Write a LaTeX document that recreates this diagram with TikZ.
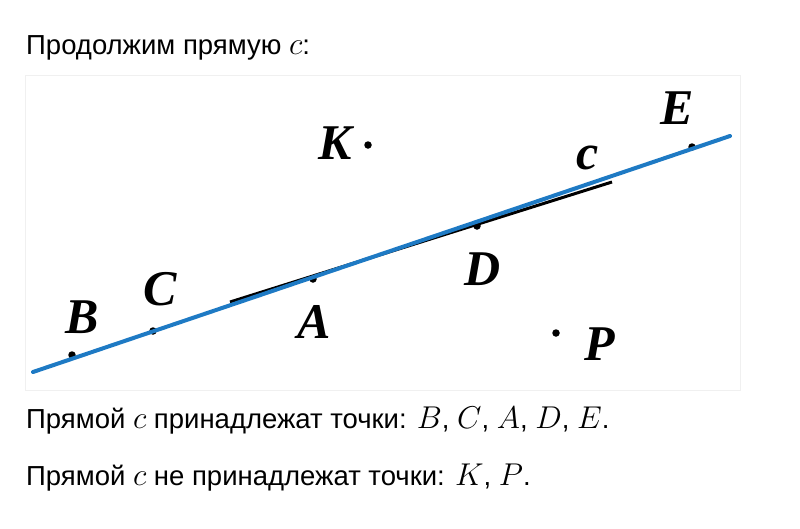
\documentclass[tikz,border=0pt]{standalone}
\usepackage{graphicx}
\usepackage{fontspec}
\setmainfont{Liberation Sans}
\newfontfamily\lblfont{Liberation Serif}
\newcommand{\mth}[1]{{\fontsize{20}{24}\selectfont\scalebox{1.52}{$#1$}}}
\begin{document}
\begin{tikzpicture}[x=1pt,y=-1pt,
  txt/.style={anchor=base west,inner sep=0pt,font=\fontsize{27.5}{32}\selectfont},
  lbl/.style={inner sep=0pt,font=\lblfont\bfseries\itshape\fontsize{50}{54}\selectfont},
  pt/.style={circle,fill=black,inner sep=0pt,minimum size=7.5pt},
  blueline/.style={draw={rgb,255:red,30;green,122;blue,196},line width=4pt,line cap=round},
  blackline/.style={draw=black,line width=3pt}]
\useasboundingbox[fill=white] (0,0) rectangle (800,528);
\draw[black!6,line width=0.8pt] (25,75) rectangle (740,390);
% text
\node[txt] (t1) at (26,54) {Продолжим прямую \mth{c}:};
\node[txt] (t2) at (26,428) {Прямой \mth{c} принадлежат точки: \mth{B}, \mth{C}, \mth{A}, \mth{D}, \mth{E}.};
\node[txt] (t3) at (26,485) {Прямой \mth{c} не принадлежат точки: \mth{K}, \mth{P}.};
% points
\coordinate (L0) at (33,372);
\coordinate (L1) at (730,136);
\coordinate (S0) at (230,302);
\coordinate (S1) at (612,182);
\draw[blackline] (S0) -- (S1);
\node[pt] (B) at (72,355) {};
\node[pt] (C) at (153,331) {};
\node[pt] (A) at (313,279) {};
\node[pt] (D) at (477,226) {};
\node[pt] (E) at (692,147) {};
\node[pt] (K) at (368,145) {};
\node[pt] (P) at (556,333) {};
\draw[blueline] (L0) -- (L1);
\node[lbl] (lB) at (82,317) {B};
\node[lbl] (lC) at (160,289) {C};
\node[lbl] (lA) at (314,322) {A};
\node[lbl] (lD) at (483,269) {D};
\node[lbl] (lE) at (677,108) {E};
\node[lbl] (lc) at (588,158) {c};
\node[lbl] (lK) at (335,143) {K};
\node[lbl] (lP) at (600,344) {P};
\end{tikzpicture}
\end{document}
